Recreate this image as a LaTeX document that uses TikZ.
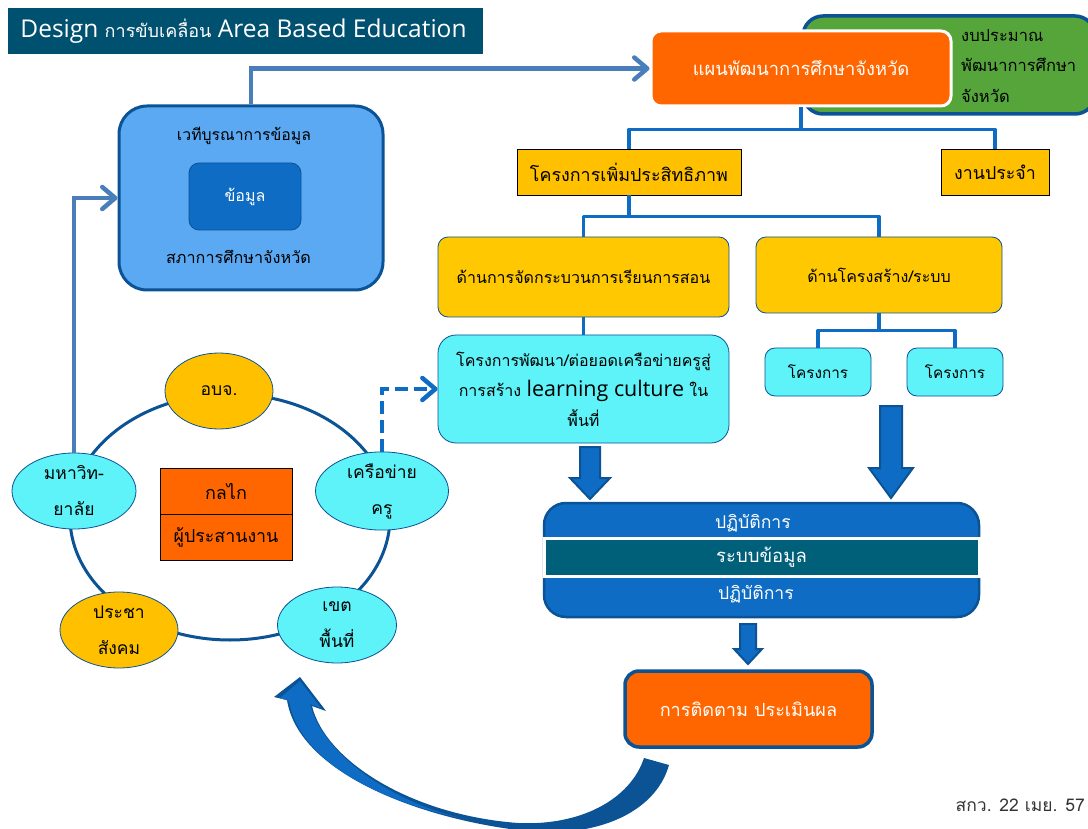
\documentclass[tikz,border=0pt]{standalone}
\usepackage{fontspec}
\setmainfont{Open Sans}
\newfontfamily\thaifont[Script=Thai]{Loma}
\usetikzlibrary{arrows.meta,shapes.geometric}
\definecolor{cTitle}{HTML}{00506F}
\definecolor{cLine}{HTML}{0F6CC4}
\definecolor{cDark}{HTML}{0B5394}
\definecolor{cSky}{HTML}{5AA9F2}
\definecolor{cOrange}{HTML}{FF6600}
\definecolor{cGreen}{HTML}{56A53B}
\definecolor{cYellow}{HTML}{FFC000}
\definecolor{cGold}{HTML}{FFC800}
\definecolor{cAqua}{HTML}{5EF3F8}
\definecolor{cTeal}{HTML}{00607A}
\definecolor{cFeed}{HTML}{4A7EBB}
\tikzset{
    thai/.style={font=\thaifont\fontsize{#1}{30}\selectfont},
    thai/.default=16,
    box/.style={rectangle,align=center,inner sep=0pt,thai},
    rbox/.style={box,rounded corners=10pt,draw=cDark,line width=0.8pt},
    ybox/.style={box,draw=black,line width=0.8pt,fill=cYellow},
    tbox/.style={box,draw=black,line width=1pt,fill=cOrange,minimum width=132pt,minimum height=46pt},
    oval/.style={ellipse,draw=cDark,line width=0.8pt,inner sep=0pt,align=center,font=\thaifont\fontsize{17.5}{36}\selectfont,minimum height=76pt},
    tree/.style={draw=cLine,line width=3.5pt,line join=round},
    feed/.style={draw=cFeed,line width=4.5pt,-{Straight Barb[length=13pt,width=22pt,line width=4.5pt,round]}},
    block/.style={fill=cLine,draw=cDark,line width=2pt,line join=miter},
}
\begin{document}
\begin{tikzpicture}[x=1pt,y=-1pt]
    \useasboundingbox (0,0) rectangle (1088,829);
    \clip (0,0) rectangle (1088,829);
    % title
    \node[box,fill=cTitle,text=white,minimum width=475pt,minimum height=46pt,font=\fontsize{24.5}{28}\selectfont] (nTitle) at (245.5,31)
        {\hspace*{-4pt}Design {\thaifont\fontsize{18}{28}\selectfont การขับเคลื่อน} Area Based Education};
    % left side
    \node[rbox,rounded corners=28pt,fill=cSky,draw=cDark,line width=3pt,minimum width=264pt,minimum height=184pt] (nForum) at (251,198) {};
    \node[box,thai=15.8] (nForumTop) at (244,136) {เวทีบูรณาการข้อมูล};
    \node[rbox,fill=cLine,text=white,minimum width=112pt,minimum height=67pt] (nData) at (245,196.5) {ข้อมูล};
    \node[box,thai=16.2] (nForumBot) at (238.5,257) {สภาการศึกษาจังหวัด};
    % top right
    \node[rbox,rounded corners=20pt,fill=cGreen,line width=3.5pt,minimum width=292pt,minimum height=98pt] (nBudget) at (949,65) {};
    \node[box,anchor=west,align=left,font=\thaifont\fontsize{16.5}{30.5}\selectfont] (nBudgetText) at (961,66) {งบประมาณ\\พัฒนาการศึกษา\\จังหวัด};
    \node[box,rounded corners=10pt,fill=cOrange,draw=white,line width=3pt,text=white,thai=18.3,minimum width=300pt,minimum height=75pt] (nPlan) at (801,68.5) {แผนพัฒนาการศึกษาจังหวัด};
    \node[ybox,thai=17.9,minimum width=224pt,minimum height=46pt] (nEfficient) at (629,172) {โครงการเพิ่มประสิทธิภาพ};
    \node[ybox,thai=17.8,minimum width=108pt,minimum height=46pt] (nRoutine) at (995,172) {งานประจำ};
    \node[rbox,fill=cGold,minimum width=291pt,minimum height=80pt] (nTeach) at (583.5,277) {ด้านการจัดกระบวนการเรียนการสอน};
    \node[rbox,fill=cGold,minimum width=246pt,minimum height=76pt] (nStruct) at (879,275) {ด้านโครงสร้าง/ระบบ};
    \node[rbox,rounded corners=18pt,fill=cAqua,minimum width=291pt,minimum height=108pt,font=\thaifont\fontsize{16}{30}\selectfont] (nCulture) at (583.5,389)
        {โครงการพัฒนา/ต่อยอดเครือข่ายครูสู่\\การสร้าง {\normalfont\fontsize{21.5}{30}\selectfont learning culture} ใน\\พื้นที่};
    \node[rbox,fill=cAqua,thai=15.3,minimum width=106pt,minimum height=48pt] (nProjA) at (818,372) {\raisebox{1.5pt}{โครงการ}};
    \node[rbox,fill=cAqua,thai=15.3,minimum width=96pt,minimum height=48pt] (nProjB) at (955,372) {\raisebox{1.5pt}{โครงการ}};
    % operations panel
    \node[rbox,rounded corners=22pt,fill=cLine,line width=2.5pt,minimum width=435pt,minimum height=114pt] (nOps) at (761.5,560) {};
    \node[box,text=white,thai=17.6] (nOpsTop) at (753,523.5) {ปฏิบัติการ};
    \node[box,fill=cTeal,draw=white,line width=3pt,text=white,thai=18.5,minimum width=435pt,minimum height=38pt] (nInfo) at (761.5,557) {ระบบข้อมูล};
    \node[box,text=white,thai=17.6] (nOpsBot) at (756,594.5) {ปฏิบัติการ};
    \node[rbox,rounded corners=14pt,fill=cOrange,line width=3.5pt,text=white,thai=18.1,minimum width=247pt,minimum height=76pt] (nEval) at (748.5,709) {การติดตาม ประเมินผล};
    % ring
    \draw[cDark,line width=3pt] (230,517) ellipse (160pt and 123pt);
    \foreach \v/\x/\y/\w/\c/\t in
    {nPao/219/391/108/cYellow/อบจ.,
        nNet/382/491/133/cAqua/เครือข่าย\\ครู,
        nUni/74/491/124/cAqua/มหาวิท-\\ยาลัย,
        nSoc/119/630/118/cYellow/ประชา\\สังคม,
        nArea/337/625/119/cAqua/เขต\\พื้นที่
    }
    {
        \node[oval,fill=\c,minimum width=\w pt] (\v) at (\x,\y) {\t};
    };
    \node[tbox,thai=18] (nMech) at (226,491) {กลไก};
    \node[tbox,thai=17.8] (nCoord) at (226,537) {ผู้ประสานงาน};
    % connectors
    \draw[tree] (nPlan.south) -- ++(0,22) -| (nEfficient.north);
    \draw[tree] (nPlan.south) -- ++(0,22) -| (nRoutine.north);
    \draw[tree] (nEfficient.south) -- ++(0,21) -| (nTeach.north);
    \draw[tree] (nEfficient.south) -- ++(0,21) -| (nStruct.north);
    \draw[tree] (nTeach.south) -- (nCulture.north);
    \draw[tree] (nStruct.south) -- ++(0,17) -| (nProjA.north);
    \draw[tree] (nStruct.south) -- ++(0,17) -| (nProjB.north);
    \draw[feed] (nForum.north) |- (nPlan.west);
    \draw[feed] (nUni.north) |- (nForum.west);
    \draw[feed,draw=cLine,dash pattern=on 13pt off 6pt] (nNet.north) |- (nCulture.west);
    % block arrows
    \foreach \x/\t/\m/\b/\s/\h in
    {590/447/478/499/10/20,
        891/406/468/498/11/22,
        748/624/649/664/8/14
    }
    {
        \draw[block] (\x-\s,\t) -- (\x+\s,\t) -- (\x+\s,\m) -- (\x+\h,\m) -- (\x,\b) -- (\x-\h,\m) -- (\x-\s,\m) -- cycle;
    };
    % curved arrow back to the ring
    \fill[cDark] (669,765) .. controls (655,815) and (590,842) .. (510,829)
        .. controls (410,815) and (298,770) .. (287,700) -- (274,697) -- (300,677) -- (326,711) -- (312,706)
        .. controls (325,760) and (410,815) .. (518,823)
        .. controls (580,826) and (630,800) .. (644,758) -- cycle;
    \fill[cLine] (289,701) -- (280,698) -- (300,681) -- (321,708) -- (310,704)
        .. controls (322,755) and (395,805) .. (470,820)
        .. controls (390,805) and (300,765) .. (289,701) -- cycle;
    \node[box,text=black!80,thai=17.5,anchor=east] (nStamp) at (1085,805) {สกว. 22 เมย. 57};
\end{tikzpicture}
\end{document}
